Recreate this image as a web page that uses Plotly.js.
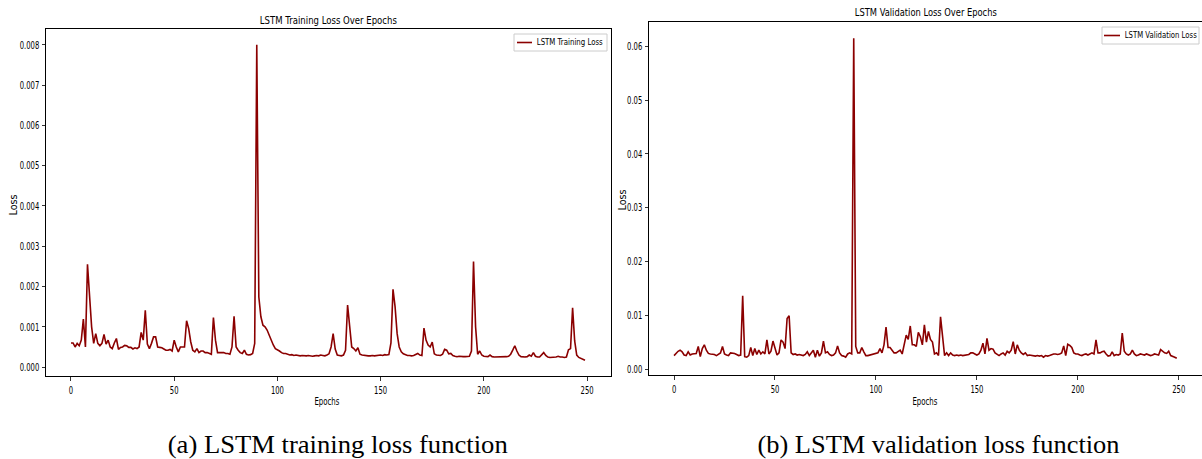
<!DOCTYPE html>
<html>
<head>
<meta charset="utf-8">
<script src="https://cdn.plot.ly/plotly-3.0.1.min.js"></script>
<style>
html,body{margin:0;padding:0;background:#fff;}
#chart{width:1202px;height:459px;}
</style>
</head>
<body>
<div id="chart"></div>
<script>
// ---- Data ----
const trainLoss = [
0.00060,0.00060,0.00050,0.00059,0.00053,0.00067,0.00119,0.00050,0.00255,0.00166,
0.00100,0.00059,0.00083,0.00059,0.00053,0.00059,0.00081,0.00057,0.00067,0.00050,
0.00046,0.00060,0.00071,0.00044,0.00049,0.00050,0.00054,0.00053,0.00049,0.00049,
0.00045,0.00048,0.00046,0.00050,0.00086,0.00067,0.00141,0.00057,0.00046,0.00059,
0.00075,0.00075,0.00050,0.00049,0.00048,0.00045,0.00042,0.00042,0.00044,0.00040,
0.00067,0.00050,0.00038,0.00050,0.00050,0.00050,0.00115,0.00096,0.00063,0.00042,
0.00038,0.00046,0.00036,0.00040,0.00040,0.00036,0.00036,0.00034,0.00032,0.00123,
0.00067,0.00036,0.00036,0.00036,0.00036,0.00034,0.00034,0.00032,0.00050,0.00126,
0.00050,0.00042,0.00036,0.00034,0.00042,0.00032,0.00030,0.00031,0.00034,0.00059,
0.00800,0.00174,0.00125,0.00104,0.00100,0.00092,0.00079,0.00063,0.00055,0.00046,
0.00044,0.00040,0.00036,0.00034,0.00034,0.00031,0.00030,0.00031,0.00029,0.00030,
0.00029,0.00028,0.00029,0.00028,0.00028,0.00029,0.00028,0.00027,0.00028,0.00029,
0.00028,0.00030,0.00029,0.00028,0.00030,0.00033,0.00050,0.00083,0.00045,0.00030,
0.00029,0.00028,0.00030,0.00042,0.00154,0.00100,0.00050,0.00046,0.00040,0.00048,
0.00032,0.00030,0.00029,0.00029,0.00028,0.00028,0.00029,0.00028,0.00029,0.00030,
0.00030,0.00029,0.00031,0.00030,0.00031,0.00060,0.00193,0.00150,0.00083,0.00050,
0.00038,0.00033,0.00030,0.00029,0.00029,0.00028,0.00029,0.00031,0.00034,0.00030,
0.00029,0.00097,0.00067,0.00055,0.00050,0.00062,0.00033,0.00030,0.00029,0.00029,
0.00032,0.00044,0.00042,0.00033,0.00034,0.00029,0.00027,0.00026,0.00027,0.00026,
0.00026,0.00026,0.00026,0.00027,0.00040,0.00262,0.00100,0.00032,0.00040,0.00030,
0.00027,0.00026,0.00026,0.00030,0.00026,0.00025,0.00025,0.00025,0.00025,0.00025,
0.00025,0.00026,0.00027,0.00032,0.00042,0.00053,0.00040,0.00030,0.00026,0.00025,
0.00025,0.00026,0.00030,0.00027,0.00036,0.00027,0.00025,0.00025,0.00030,0.00036,
0.00029,0.00025,0.00024,0.00024,0.00024,0.00025,0.00027,0.00025,0.00025,0.00024,
0.00025,0.00043,0.00046,0.00147,0.00065,0.00030,0.00024,0.00021,0.00019,0.00017
];
const valLoss = [
0.0025,0.0030,0.0033,0.0035,0.0032,0.0026,0.0025,0.0032,0.0026,0.0028,
0.0029,0.0029,0.0042,0.0023,0.0038,0.0045,0.0035,0.0029,0.0028,0.0028,
0.0027,0.0025,0.0028,0.0030,0.0042,0.0028,0.0026,0.0025,0.0030,0.0030,
0.0029,0.0027,0.0025,0.0026,0.0136,0.0023,0.0022,0.0025,0.0040,0.0025,
0.0038,0.0027,0.0035,0.0028,0.0032,0.0028,0.0054,0.0028,0.0033,0.0052,
0.0038,0.0026,0.0030,0.0054,0.0050,0.0038,0.0094,0.0099,0.0030,0.0027,
0.0028,0.0026,0.0027,0.0026,0.0025,0.0027,0.0032,0.0025,0.0030,0.0035,
0.0022,0.0035,0.0024,0.0030,0.0052,0.0030,0.0032,0.0027,0.0025,0.0026,
0.0030,0.0043,0.0030,0.0025,0.0024,0.0022,0.0028,0.0030,0.0028,0.0615,
0.0042,0.0030,0.0030,0.0040,0.0032,0.0025,0.0025,0.0026,0.0026,0.0027,
0.0028,0.0030,0.0038,0.0030,0.0045,0.0078,0.0040,0.0040,0.0035,0.0030,
0.0030,0.0032,0.0035,0.0028,0.0045,0.0063,0.0055,0.0080,0.0045,0.0045,
0.0042,0.0068,0.0060,0.0045,0.0082,0.0050,0.0070,0.0055,0.0050,0.0028,
0.0030,0.0025,0.0097,0.0060,0.0025,0.0030,0.0025,0.0030,0.0026,0.0025,
0.0026,0.0025,0.0026,0.0025,0.0026,0.0026,0.0027,0.0030,0.0030,0.0028,
0.0026,0.0028,0.0035,0.0048,0.0028,0.0057,0.0035,0.0038,0.0037,0.0030,
0.0028,0.0025,0.0028,0.0030,0.0026,0.0033,0.0030,0.0035,0.0051,0.0028,
0.0045,0.0035,0.0030,0.0027,0.0030,0.0025,0.0026,0.0025,0.0025,0.0024,
0.0025,0.0024,0.0025,0.0022,0.0025,0.0024,0.0025,0.0027,0.0028,0.0028,
0.0027,0.0028,0.0030,0.0043,0.0025,0.0046,0.0044,0.0040,0.0030,0.0028,
0.0028,0.0026,0.0025,0.0027,0.0028,0.0026,0.0028,0.0030,0.0028,0.0054,
0.0030,0.0030,0.0032,0.0033,0.0028,0.0024,0.0025,0.0032,0.0025,0.0027,
0.0026,0.0028,0.0067,0.0033,0.0028,0.0026,0.0028,0.0035,0.0028,0.0025,
0.0026,0.0028,0.0027,0.0026,0.0028,0.0027,0.0025,0.0026,0.0028,0.0027,
0.0026,0.0036,0.0032,0.0030,0.0029,0.0033,0.0025,0.0024,0.0022,0.0020
];
const epochs = trainLoss.map((_, i) => i);
const xTicks = [0, 50, 100, 150, 200, 250];
const trainTicks = [0, 0.001, 0.002, 0.003, 0.004, 0.005, 0.006, 0.007, 0.008];
const valTicks = [0, 0.01, 0.02, 0.03, 0.04, 0.05, 0.06];
const titles = ["LSTM Training Loss Over Epochs", "LSTM Validation Loss Over Epochs"];
const seriesNames = ["LSTM Training Loss", "LSTM Validation Loss"];
const captions = ["(a) LSTM training loss function", "(b) LSTM validation loss function"];

// ---- Layout helpers ----
const W = 1202, H = 459;
const px = x => x / W;
const py = y => 1 - y / H;
const SANS = "DejaVu Sans, sans-serif";
const SERIF = "Liberation Serif, Times New Roman, serif";
const LINE = "#8b0000";

const traces = [
  {x: epochs, y: trainLoss, type: "scatter", mode: "lines", name: seriesNames[0],
   line: {color: LINE, width: 1.6}, xaxis: "x", yaxis: "y", showlegend: false},
  {x: epochs, y: valLoss, type: "scatter", mode: "lines", name: seriesNames[1],
   line: {color: LINE, width: 1.6}, xaxis: "x2", yaxis: "y2", showlegend: false}
];

const axBase = {
  showgrid: false, zeroline: false, showline: true, mirror: true,
  linecolor: "#000", linewidth: 1, ticks: "outside", ticklen: 3.5, tickwidth: 0.8,
  tickcolor: "#000", tickfont: {family: SANS, size: 11, color: "#000"}
};

// annotation specs: text, centre position, font size, target width (px) for horizontal squeeze
const annSpecs = [
  {text: titles[0], x: 328, y: 20, size: 11, w: 137},
  {text: titles[1], x: 926, y: 12, size: 11, w: 142},
  {text: "Epochs", x: 327, y: 401, size: 10, w: 25},
  {text: "Epochs", x: 925, y: 401, size: 10, w: 25},
  {text: "Loss", x: 13, y: 205, size: 10, textangle: -90, w: 21},
  {text: "Loss", x: 622, y: 200, size: 10, textangle: -90, w: 21},
  {text: seriesNames[0], x: 570, y: 42.5, size: 8, w: 66},
  {text: seriesNames[1], x: 1160, y: 35.5, size: 8, w: 72},
  {text: captions[0], x: 338, y: 445, size: 25, family: SERIF, w: 340},
  {text: captions[1], x: 939, y: 445, size: 25, family: SERIF, w: 362}
];

const layout = {
  width: W, height: H, margin: {l: 0, r: 0, t: 0, b: 0},
  paper_bgcolor: "#fff", plot_bgcolor: "#fff", showlegend: false,
  xaxis: Object.assign({}, axBase, {domain: [px(46), px(611)], range: [-12.1, 261.6],
    tickvals: xTicks, anchor: "y"}),
  yaxis: Object.assign({}, axBase, {domain: [py(376), py(29)], range: [-0.00022, 0.00839],
    tickvals: trainTicks, tickformat: ".3f", anchor: "x"}),
  xaxis2: Object.assign({}, axBase, {domain: [px(649), 1], range: [-12.4, 261.5],
    tickvals: xTicks, anchor: "y2"}),
  yaxis2: Object.assign({}, axBase, {domain: [py(375), py(22)], range: [-0.00111, 0.0645],
    tickvals: valTicks, tickformat: ".2f", anchor: "x2"}),
  annotations: annSpecs.map(a => ({
    text: a.text, x: px(a.x), y: py(a.y), xref: "paper", yref: "paper",
    xanchor: "center", yanchor: "middle", showarrow: false,
    textangle: a.textangle || 0, borderpad: 0,
    font: {family: a.family || SANS, size: a.size, color: "#000"}
  })),
  shapes: [
    {type: "rect", xref: "paper", yref: "paper", x0: px(514), x1: px(607), y0: py(51), y1: py(34),
     line: {color: "#cccccc", width: 1}, fillcolor: "rgba(255,255,255,0.8)"},
    {type: "line", xref: "paper", yref: "paper", x0: px(517), x1: px(532), y0: py(42.5), y1: py(42.5),
     line: {color: LINE, width: 1.6}},
    {type: "rect", xref: "paper", yref: "paper", x0: px(1102), x1: px(1199), y0: py(44), y1: py(27),
     line: {color: "#cccccc", width: 1}, fillcolor: "rgba(255,255,255,0.8)"},
    {type: "line", xref: "paper", yref: "paper", x0: px(1104), x1: px(1120), y0: py(35.5), y1: py(35.5),
     line: {color: LINE, width: 1.6}}
  ]
};

function squeeze(el, target) {
  const len = el.getComputedTextLength();
  if (len > 0 && target > 0) {
    el.setAttribute("textLength", target.toFixed(2));
    el.setAttribute("lengthAdjust", "spacingAndGlyphs");
  }
}

Plotly.newPlot("chart", traces, layout, {staticPlot: true, displayModeBar: false}).then(gd => {
  // tick labels: reference glyphs are horizontally condensed
  gd.querySelectorAll(".xtick text, .x2tick text, .ytick text, .y2tick text").forEach(t => {
    squeeze(t, t.getComputedTextLength() * 0.62);
  });
  gd.querySelectorAll("g.annotation").forEach((g, i) => {
    const t = g.querySelector("text.annotation-text");
    if (t && annSpecs[i]) squeeze(t, annSpecs[i].w);
  });
});
</script>
</body>
</html>
